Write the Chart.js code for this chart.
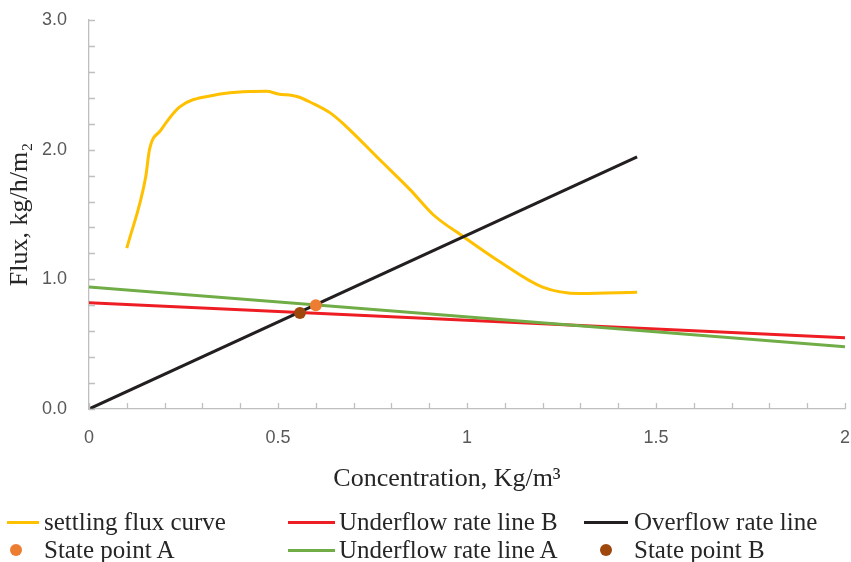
<!DOCTYPE html>
<html>
<head>
<meta charset="utf-8">
<script src="https://cdn.jsdelivr.net/npm/chart.js@4.4.1/dist/chart.umd.min.js"></script>
<style>
    body { margin: 0; background: #fff; }
    #wrap { position: relative; width: 851px; height: 562px; }
    #chartBox { position: absolute; left: 0; top: 0; width: 851px; height: 500px; }
    #legend { position: absolute; left: 0; top: 0; width: 851px; height: 562px; pointer-events: none;
        font-family: "Liberation Serif", serif; font-size: 25px; color: #262626; }
    .mark { position: absolute; }
    .mark.line { height: 3px; }
    .mark.dot { width: 12px; height: 12px; border-radius: 50%; }
    .txt { position: absolute; line-height: 28px; white-space: nowrap; }
</style>
</head>
<body>
<div id="wrap">
    <div id="chartBox"><canvas id="fluxChart" width="851" height="500"></canvas></div>
    <div id="legend"></div>
</div>
<script>
// settling flux curve
const fluxX = [0.10, 0.15, 0.16, 0.19, 0.24, 0.33, 0.47, 0.50, 0.55, 0.59, 0.64, 0.68, 0.77, 0.85, 0.91, 0.99, 1.09, 1.20, 1.30, 1.45];
const fluxY = [1.24, 1.79, 2.00, 2.15, 2.33, 2.42, 2.45, 2.43, 2.41, 2.36, 2.28, 2.18, 1.92, 1.69, 1.50, 1.33, 1.13, 0.94, 0.89, 0.90];

// straight lines
const overflowX = [0, 1.45];
const overflowY = [0, 1.945];
const underBX = [0, 2];
const underBY = [0.82, 0.55];
const underAX = [0, 2];
const underAY = [0.94, 0.48];

// state points
const stateAX = [0.60];
const stateAY = [0.80];
const stateBX = [0.558];
const stateBY = [0.74];

const yTicks = [0, 1, 2, 3];
const xTicks = [0, 0.5, 1, 1.5, 2];
const xTitle = "Concentration, Kg/m³";
const yTitle = "Flux, kg/h/m₂";

function pts(xs, ys) {
    return xs.map((x, i) => ({ x: x, y: ys[i] }));
}

// Excel style tick marks inside the plot area, plus the x title
const excelAxes = {
    id: "excelAxes",
    afterDraw(chart) {
        const ctx = chart.ctx;
        const xs = chart.scales.x;
        const ys = chart.scales.y;
        const area = chart.chartArea;
        ctx.save();
        ctx.strokeStyle = "#BFBFBF";
        ctx.lineWidth = 1.3;
        ctx.beginPath();
        for (let i = 0; i <= 15; i++) {
            const py = Math.round(ys.getPixelForValue(i * 0.2)) + 0.5;
            ctx.moveTo(area.left, py);
            ctx.lineTo(area.left + 6, py);
        }
        for (let i = 0; i <= 20; i++) {
            const px = Math.round(xs.getPixelForValue(i * 0.1)) + 0.5;
            ctx.moveTo(px, area.bottom);
            ctx.lineTo(px, area.bottom - 6);
        }
        ctx.stroke();

        ctx.fillStyle = "#262626";
        ctx.font = "26px 'Liberation Serif'";
        ctx.textAlign = "center";
        ctx.textBaseline = "middle";
        ctx.fillText(xTitle, (area.left + area.right) / 2 - 20, area.bottom + 70);
        ctx.restore();
    }
};

const lineDs = (label, data, color, order) => ({
    label: label,
    data: data,
    borderColor: color,
    backgroundColor: color,
    borderWidth: 3,
    pointRadius: 0,
    showLine: true,
    fill: false,
    order: order,
    legendType: "line"
});

const dotDs = (label, data, color) => ({
    label: label,
    data: data,
    borderColor: color,
    backgroundColor: color,
    pointRadius: 6,
    pointBorderWidth: 0,
    showLine: false,
    order: 0,
    legendType: "dot"
});

const datasets = [
    Object.assign(lineDs("settling flux curve", pts(fluxX, fluxY), "#FFC000", 3), { tension: 0.4, cubicInterpolationMode: "monotone" }),
    lineDs("Underflow rate line B", pts(underBX, underBY), "#EE1D23", 2),
    lineDs("Overflow rate line", pts(overflowX, overflowY), "#231F20", 1),
    dotDs("State point A", pts(stateAX, stateAY), "#ED7D31"),
    lineDs("Underflow rate line A", pts(underAX, underAY), "#70AD47", 1),
    dotDs("State point B", pts(stateBX, stateBY), "#9E480E")
];

const tickFont = { family: "Liberation Sans", size: 18 };

const chart = new Chart(document.getElementById("fluxChart"), {
    type: "scatter",
    data: { datasets: datasets },
    options: {
        responsive: false,
        animation: false,
        layout: { padding: { top: 20, right: 6, left: 0, bottom: 0 } },
        plugins: { legend: { display: false }, tooltip: { enabled: false } },
        scales: {
            x: {
                type: "linear",
                min: 0, max: 2,
                afterFit: s => { s.height = 91; s.paddingLeft = 0; s.paddingRight = 0; },
                afterBuildTicks: s => { s.ticks = xTicks.map(v => ({ value: v })); },
                grid: { display: false },
                border: { display: true, color: "#BFBFBF", width: 1.3 },
                ticks: { color: "#595959", font: tickFont, padding: 10, maxRotation: 0, callback: v => String(v) },
                title: { display: false }
            },
            y: {
                type: "linear",
                min: 0, max: 3,
                afterFit: s => { s.width = 89; s.paddingTop = 0; s.paddingBottom = 0; },
                afterBuildTicks: s => { s.ticks = yTicks.map(v => ({ value: v })); },
                grid: { display: false },
                border: { display: true, color: "#BFBFBF", width: 1.3 },
                ticks: { color: "#595959", font: tickFont, padding: 14, callback: v => Number(v).toFixed(1) },
                title: { display: true, text: yTitle, color: "#262626",
                    font: { family: "Liberation Serif", size: 26 }, padding: { top: 5, bottom: 0 } }
            }
        }
    },
    plugins: [excelAxes]
});

// legend in Excel's three-column layout (marker span, text start, row)
const legendPos = [
    { m0: 7, m1: 39, tx: 44, row: 0 },
    { m0: 288, m1: 335, tx: 339, row: 0 },
    { m0: 584, m1: 628, tx: 634, row: 0 },
    { m0: 10, m1: 22, tx: 44, row: 1 },
    { m0: 288, m1: 335, tx: 339, row: 1 },
    { m0: 600, m1: 612, tx: 634, row: 1 }
];
const rowMid = [522, 550];
const rowTextTop = [508, 536];

const legend = document.getElementById("legend");
chart.data.datasets.forEach((ds, i) => {
    const p = legendPos[i];
    const mark = document.createElement("div");
    mark.style.left = p.m0 + "px";
    if (ds.legendType === "dot") {
        mark.className = "mark dot";
        mark.style.top = (rowMid[p.row] - 6) + "px";
    } else {
        mark.className = "mark line";
        mark.style.width = (p.m1 - p.m0) + "px";
        mark.style.top = (rowMid[p.row] - 1.5) + "px";
    }
    mark.style.background = ds.borderColor;
    legend.appendChild(mark);
    const txt = document.createElement("div");
    txt.className = "txt";
    txt.style.left = p.tx + "px";
    txt.style.top = rowTextTop[p.row] + "px";
    txt.textContent = ds.label;
    legend.appendChild(txt);
});
</script>
</body>
</html>
